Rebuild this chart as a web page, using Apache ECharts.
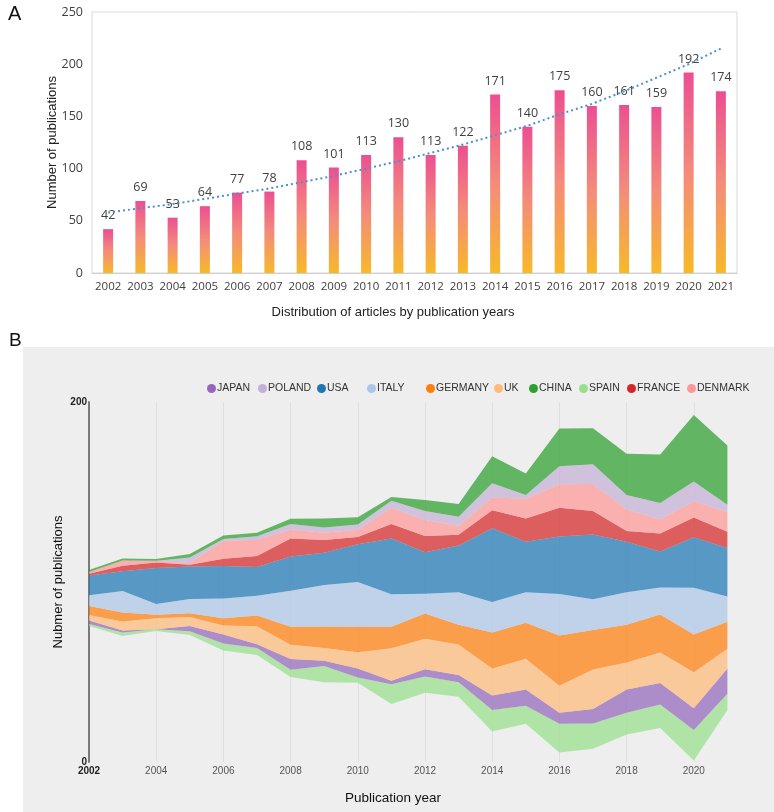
<!DOCTYPE html>
<html><head><meta charset="utf-8">
<script src="https://cdn.jsdelivr.net/npm/echarts@6/dist/echarts.min.js"></script>
<style>html,body{margin:0;padding:0;background:#fff}#c{width:774px;height:812px}</style>
</head><body><div id="c"></div>
<script>
// ---------- Panel A data ----------
const years = ['2002','2003','2004','2005','2006','2007','2008','2009','2010','2011','2012','2013','2014','2015','2016','2017','2018','2019','2020','2021'];
const pubCounts = [42,69,53,64,77,78,108,101,113,130,113,122,171,140,175,160,161,159,192,174];
const trendValues = [58,62,66,71,76,81,87,93,100,107,115,123,132,141,152,162,174,187,200,215];
const yTicksA = [0,50,100,150,200,250];

// ---------- Panel B data (stacked bottom -> top) ----------
const streamBase = [75.6,70,72.8,70.6,61.9,59.4,47.2,44.3,44,32.2,38.5,36.3,16.9,21.3,5.3,7.4,15.3,18.9,0.8,28.9];
const SPAIN   = [1,2,1,2,4,4,4,9,3,11,9,8,12,10,16,14,12,13,17,9];
const JAPAN   = [2,1,0,3,5,2,6,3,5,2,4,4,8,9,6,8,13,12,12,14];
const UK      = [3,5,6,5,5,10,8,7,9,18,17,17,15,17,15,22,15,17,20,11];
const GERMANY = [5,5,2,2,4,6,10,12,14,12,14,11,20,20,28,22,21,21,21,15];
const ITALY   = [6,12,6,8,11,11,20,23,25,18,11,18,17,17,23,17,18,15,26,14];
const USA     = [11,11,20,18,18,16,19,18,21,31,23,26,41,28,32,36,28,20,28,27];
const FRANCE  = [1,3,3,1,4,6,10,7,4,8,9,6,10,13,16,13,6,10,11,9];
const DENMARK = [1,3,1,1,10,9,5,4,4,9,9,5,7,11,13,15,12,8,9,11];
const POLAND  = [0,0,0,3,1,2,3,3,3,4,5,5,8,2,10,11,8,9,11,4];
const CHINA   = [1,1,1,2,2,2,3,5,4,2,6,7,15,12,21,20,23,27,37,33];
const legendOrder = ['JAPAN','POLAND','USA','ITALY','GERMANY','UK','CHINA','SPAIN','FRANCE','DENMARK'];
const stackOrder = ['SPAIN','JAPAN','UK','GERMANY','ITALY','USA','FRANCE','DENMARK','POLAND','CHINA'];
const yTicksB = [0,200];

const countryData = {SPAIN, JAPAN, UK, GERMANY, ITALY, USA, FRANCE, DENMARK, POLAND, CHINA};
const colors = {JAPAN:'#9467bd',POLAND:'#c5b0d5',USA:'#1f77b4',ITALY:'#aec7e8',GERMANY:'#ff7f0e',
  UK:'#ffbb78',CHINA:'#2ca02c',SPAIN:'#98df8a',FRANCE:'#d62728',DENMARK:'#ff9896'};
const legendLeft = {JAPAN:207,POLAND:258,USA:317,ITALY:367,GERMANY:426,UK:494,CHINA:529,SPAIN:579,FRANCE:627,DENMARK:687};

const chart = echarts.init(document.getElementById('c'), null, {renderer:'canvas'});

const barGrad = new echarts.graphic.LinearGradient(0,0,0,1,[
  {offset:0,color:'#ec4f91'},{offset:0.5,color:'#f48b7b'},{offset:1,color:'#f7b929'}]);

const streamSeries = [{
  name:'base', type:'line', stack:'stream', xAxisIndex:1, yAxisIndex:1,
  data: streamBase, symbol:'none', silent:true, lineStyle:{width:0,opacity:0}, z:2
}].concat(stackOrder.map(c => ({
  name:c, type:'line', stack:'stream', xAxisIndex:1, yAxisIndex:1,
  data: countryData[c], symbol:'none', silent:true, smooth:false,
  lineStyle:{width:0,opacity:0}, itemStyle:{color:colors[c]},
  areaStyle:{color:colors[c], opacity:0.72}, z:2
})));

const legends = legendOrder.map(c => ({
  data:[{name:c, icon:'circle'}], left:legendLeft[c], top:383, itemWidth:9, itemHeight:9,
  padding:0, textStyle:{fontSize:10.5, color:'#333', fontFamily:'Liberation Sans', padding:[0,0,0,-4]},
  selectedMode:false
}));

chart.setOption({
  animation:false,
  textStyle:{fontFamily:'Liberation Sans'},
  legend: legends,
  graphic:[
    {type:'rect', z:-100, silent:true, shape:{x:23,y:347,width:751,height:465}, style:{fill:'#eeeeee'}},
    {type:'text', left:8, top:4, style:{text:'A', fontSize:20, fill:'#111', fontFamily:'Liberation Sans'}},
    {type:'text', left:9, top:331, style:{text:'B', fontSize:19, fill:'#111', fontFamily:'Liberation Sans'}},
    {type:'text', x:393, y:312, style:{text:'Distribution of articles by publication years', fontSize:13, fill:'#222',
      align:'center', verticalAlign:'middle', fontFamily:'Liberation Sans'}},
    {type:'text', x:393, y:798, style:{text:'Publication year', fontSize:13.5, fill:'#111',
      align:'center', verticalAlign:'middle', fontFamily:'Liberation Sans'}}
  ],
  grid:[
    {left:92, right:37, top:12, height:261, show:true, borderColor:'#d9d9d9', borderWidth:1, backgroundColor:'transparent'},
    {left:89, right:46.6, top:402, height:360}
  ],
  xAxis:[
    {type:'category', gridIndex:0, data:years,
      axisLine:{lineStyle:{color:'#cfcfcf'}}, axisTick:{lineStyle:{color:'#cfcfcf'}, length:4},
      axisLabel:{interval:0, hideOverlap:false, color:'#404040', fontSize:11.5, margin:8, fontFamily:'Open Sans'}},
    {type:'category', gridIndex:1, data:years, boundaryGap:false,
      axisLine:{show:false}, axisTick:{show:false},
      splitLine:{show:true, interval:(i)=> i>0 && i%2===0, lineStyle:{color:'#e0e0e0', width:1}},
      axisLabel:{interval:1, margin:4, fontSize:10, color:'#555',
        formatter:(v,i)=> i===0 ? '{b|'+v+'}' : v,
        rich:{b:{fontWeight:'bold', color:'#222', fontSize:10}}}}
  ],
  yAxis:[
    {type:'value', gridIndex:0, min:yTicksA[0], max:yTicksA[yTicksA.length-1], interval:50,
      name:'Number of publications', nameLocation:'middle', nameGap:33, nameMoveOverlap:false,
      nameTextStyle:{fontSize:13, color:'#222', fontFamily:'Liberation Sans'},
      axisLine:{show:false}, axisTick:{show:false}, splitLine:{show:false},
      axisLabel:{color:'#404040', fontSize:12.5, margin:9, fontFamily:'Open Sans'}},
    {type:'value', gridIndex:1, min:yTicksB[0], max:yTicksB[1], interval:200,
      name:'Nubmer of publications', nameLocation:'middle', nameGap:24, nameMoveOverlap:false,
      nameTextStyle:{fontSize:13, color:'#111', fontFamily:'Liberation Sans'},
      axisLine:{show:true, lineStyle:{color:'#7a7a7a', width:2}}, axisTick:{show:false}, splitLine:{show:false},
      axisLabel:{color:'#222', fontSize:10, fontWeight:'bold', margin:2}}
  ],
  series:[
    {type:'bar', xAxisIndex:0, yAxisIndex:0, data:pubCounts, barWidth:10,
      itemStyle:{color:barGrad},
      label:{show:true, position:'top', distance:7, color:'#404040', fontSize:12.5, fontFamily:'Open Sans'}, z:2},
    {type:'line', xAxisIndex:0, yAxisIndex:0, data:trendValues, symbol:'none', smooth:false,
      lineStyle:{color:'#4a8fd0', width:2, type:[2,3]}, z:5}
  ].concat(streamSeries)
});
</script></body></html>
